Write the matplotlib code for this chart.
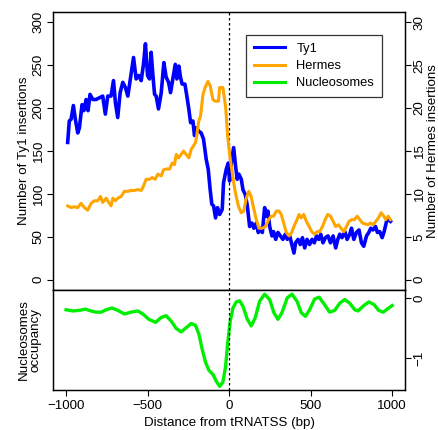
import matplotlib
matplotlib.use("Agg")
import matplotlib.pyplot as plt
from matplotlib.lines import Line2D

plt.rcParams['font.family'] = ['Liberation Sans', 'DejaVu Sans']
plt.rcParams['font.size'] = 9.6

# Ty1 insertions (left axis)
ty1_x = [-990, -980, -969, -955, -943, -928, -918, -902, -891, -877, -865, -853, -836, -816,
         -795, -775, -759, -744, -724, -709, -697, -683, -668, -652, -636, -621, -607, -586,
         -570, -554, -539, -525, -513, -500, -488, -478, -468, -457, -447, -433, -416, -400,
         -386, -371, -359, -345, -330, -320, -308, -298, -288, -271, -259, -247, -236, -222,
         -212, -202, -185, -171, -157, -140, -128, -116, -106, -95, -83, -71, -58, -42, -34,
         -17, -5, 3, 14, 28, 40, 50, 60, 75, 85, 100, 112, 126, 140, 152, 167, 179, 192, 204,
         218, 229, 238, 249, 263, 273, 286, 300, 315, 330, 345, 357, 372, 388, 398, 408, 423,
         437, 450, 464, 478, 494, 509, 523, 536, 550, 562, 576, 591, 607, 622, 638, 654, 667,
         679, 693, 710, 724, 740, 751, 765, 781, 797, 812, 826, 843, 857, 869, 883, 898, 910,
         924, 939, 951, 966, 978, 990]
ty1_y = [160, 185, 187, 203, 187, 171, 177, 204, 197, 210, 197, 216, 210, 210,
         212, 214, 193, 214, 214, 232, 206, 189, 218, 230, 224, 214, 232, 259,
         234, 238, 232, 251, 275, 238, 234, 265, 240, 216, 214, 199, 218, 253,
         236, 230, 218, 234, 251, 234, 249, 236, 228, 228, 214, 199, 183, 185,
         168, 177, 173, 171, 164, 140, 129, 105, 88, 86, 72, 84, 76, 82, 113,
         129, 136, 115, 136, 154, 132, 117, 123, 117, 105, 99, 86, 62, 66, 60, 66, 55, 60, 55,
         84, 74, 80, 62, 51, 56, 47, 55, 51, 47, 53, 47, 51, 39, 31, 43, 47,
         41, 49, 37, 47, 41, 47, 43, 51, 47, 53, 43, 49, 51, 43, 51, 37, 47,
         53, 49, 56, 47, 53, 60, 47, 55, 58, 43, 39, 51, 55, 60, 58, 62, 55,
         56, 49, 56, 68, 70, 68]

# Hermes insertions (right axis)
hermes_x = [-990, -969, -949, -928, -908, -887, -867, -846, -826, -806, -789, -775, -754,
            -738, -724, -713, -697, -683, -662, -642, -621, -601, -580, -560, -539, -525,
            -509, -488, -472, -453, -437, -416, -402, -386, -365, -349, -335, -324, -310,
            -294, -279, -263, -247, -232, -218, -206, -198, -188, -175, -160, -147, -130,
            -116, -99, -85, -65, -58, -38, -21, -9, 5, 22, 39, 57, 74, 90, 104, 121, 135,
            150, 167, 183, 204, 224, 242, 259, 273, 290, 306, 320, 335, 351, 368, 384, 402,
            417, 429, 443, 458, 474, 491, 507, 525, 540, 556, 573, 589, 605, 622, 638, 654,
            671, 687, 704, 720, 736, 753, 769, 786, 802, 818, 835, 851, 867, 883, 900, 916,
            933, 949, 961, 976, 990]
hermes_y = [8.6, 8.4, 8.5, 8.4, 8.9, 8.4, 8.1, 8.9, 9.2, 9.2, 9.7, 9.0, 9.5,
            9.0, 8.6, 9.5, 9.2, 9.5, 9.7, 10.3, 10.3, 10.4, 10.4, 10.5, 10.4, 10.9,
            11.7, 11.7, 11.9, 11.7, 12.3, 12.1, 12.8, 12.9, 12.9, 13.6, 13.4, 14.6, 14.2,
            14.6, 15.0, 14.6, 14.2, 15.2, 15.6, 16.0, 16.8, 18.3, 19.1, 21.6, 22.4, 23.1,
            22.6, 21.0, 20.8, 20.8, 22.4, 22.4, 20.1, 16.8, 14.4, 12.1, 10.1, 8.6, 7.8, 8.0, 9.4, 10.3, 9.7,
            8.4, 7.0, 6.0, 6.0, 6.2, 7.0, 7.4, 7.4, 8.0, 8.0, 7.6, 6.6, 5.5, 5.1, 5.5, 6.4,
            7.0, 7.6, 7.2, 7.6, 6.8, 6.2, 5.6, 5.3, 5.6, 5.6, 6.2, 7.0, 7.6, 7.4, 6.8, 6.2,
            6.4, 6.0, 5.6, 6.2, 6.8, 7.0, 7.0, 7.4, 7.0, 6.6, 6.5, 6.4, 6.6, 6.4, 6.8, 7.2,
            7.8, 7.4, 7.0, 7.4, 7.0]

# Nucleosome occupancy (bottom panel)
nuc_x = [-1000, -959, -918, -881, -847, -816, -785, -754, -718, -683, -642, -601, -560,
         -529, -492, -451, -417, -386, -355, -325, -294, -263, -232, -206, -185, -165,
         -144, -124, -99, -79, -58, -38, -22, -7, 7, 24, 44, 65, 85, 112, 136, 161, 187,
         218, 249, 275, 300, 324, 357, 386, 417, 443, 468, 494, 525, 552, 582, 617, 648,
         679, 709, 740, 771, 791, 822, 857, 888, 918, 945, 975, 1000]
nuc_y = [-0.19, -0.21, -0.20, -0.18, -0.21, -0.23, -0.23, -0.19, -0.16, -0.20, -0.26, -0.23, -0.21,
         -0.26, -0.35, -0.40, -0.32, -0.29, -0.38, -0.50, -0.56, -0.49, -0.42, -0.45, -0.60, -0.85,
         -1.07, -1.20, -1.27, -1.38, -1.47, -1.40, -1.15, -0.71, -0.38, -0.16, -0.06, -0.04, -0.13,
         -0.35, -0.46, -0.32, -0.05, 0.07, -0.02, -0.24, -0.35, -0.24, 0.01, 0.07, -0.05, -0.24,
         -0.30, -0.19, -0.01, 0.02, -0.09, -0.23, -0.20, -0.08, -0.02, -0.08, -0.19, -0.21, -0.13,
         -0.06, -0.10, -0.20, -0.23, -0.17, -0.12]

x_ticks = [-1000, -500, 0, 500, 1000]
ty1_ticks = [0, 50, 100, 150, 200, 250, 300]
hermes_ticks = [0, 5, 10, 15, 20, 25, 30]
nuc_ticks = [0, -1]

fig = plt.figure(figsize=(4.38, 4.30), dpi=100)
ax1 = fig.add_axes([0.121, 0.3256, 0.804, 0.6465])
ax2 = ax1.twinx()
ax3 = fig.add_axes([0.121, 0.093, 0.804, 0.2326])

tick_kw = dict(direction='out', length=4, width=0.8, labelsize=9.6, pad=2)

ax1.plot(ty1_x, ty1_y, color='#0000ff', lw=2.6, solid_joinstyle='round')
ax2.plot(hermes_x, hermes_y, color='#ffa500', lw=2.2, solid_joinstyle='round')
ax3.plot(nuc_x, nuc_y, color='#00ee00', lw=2.4, solid_joinstyle='round')

for ax in (ax1, ax3):
    ax.set_xlim(-1080, 1080)
    ax.axvline(0, color='black', ls=(0, (2, 2)), lw=0.9)

ax1.set_ylim(-12, 312)
ax2.set_ylim(-1.2, 31.2)
ax3.set_ylim(-1.53, 0.14)

ax1.set_xticks([])
ax1.set_yticks(ty1_ticks)
ax1.set_yticklabels([str(t) for t in ty1_ticks], rotation=90, va='center')
ax1.tick_params(axis='y', **tick_kw)
ax1.set_ylabel('Number of Ty1 insertions', fontsize=9.6, labelpad=2)

ax2.set_yticks(hermes_ticks)
ax2.set_yticklabels([str(t) for t in hermes_ticks], rotation=90, va='center')
ax2.tick_params(axis='y', **tick_kw)
ax2.set_ylabel('Number of Hermes insertions', fontsize=9.6, labelpad=1, rotation=90)

ax3.set_xticks(x_ticks)
ax3.set_xticklabels(['\u22121000', '\u2212500', '0', '500', '1000'])
ax3.tick_params(axis='x', direction='out', length=4, width=0.8, labelsize=9.6, pad=3)
ax3.set_yticks([])
ax3.set_xlabel('Distance from tRNATSS (bp)', fontsize=9.6, labelpad=4)
ax3.set_ylabel('Nucleosomes\noccupancy', fontsize=9.6, labelpad=8, linespacing=1.05)
ax4 = ax3.twinx()
ax4.set_ylim(-1.53, 0.14)
ax4.set_yticks(nuc_ticks)
ax4.set_yticklabels(['0', '\u22121'], rotation=90, va='center')
ax4.tick_params(axis='y', **tick_kw)

for ax in (ax1, ax2, ax3, ax4):
    for s in ax.spines.values():
        s.set_linewidth(0.9)

handles = [Line2D([], [], color='#0000ff', lw=2.2),
           Line2D([], [], color='#ffa500', lw=2.2),
           Line2D([], [], color='#00ee00', lw=2.2)]
leg = ax2.legend(handles, ['Ty1', 'Hermes', 'Nucleosomes'], loc='upper left',
                 bbox_to_anchor=(0.548, 0.917), frameon=True, fancybox=False,
                 edgecolor='black', fontsize=9.3, handlelength=2.4, handletextpad=0.9,
                 labelspacing=0.4, borderpad=0.6, borderaxespad=0)
leg.get_frame().set_linewidth(0.9)

fig.savefig('out.png', dpi=100)
